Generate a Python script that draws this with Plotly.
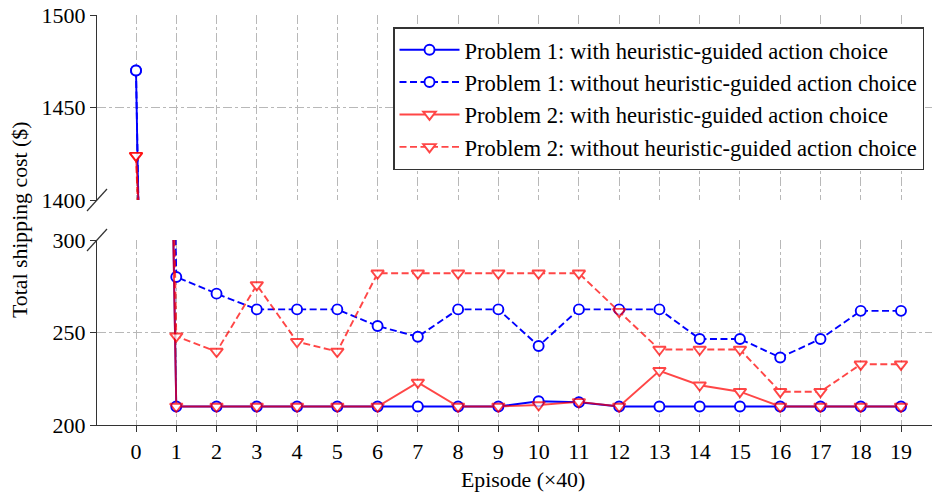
import plotly.graph_objects as go

# Episode index (one unit = 40 training episodes)
episodes = list(range(20))

# Total shipping cost ($) per evaluation point
p1_with = [1470, 210, 210, 210, 210, 210, 210, 210, 210, 210,
           212.8, 212.3, 210, 210, 210, 210, 210, 210, 210, 210]
p1_without = [1470, 280, 271, 262.5, 262.5, 262.5, 253.5, 247.7, 262.5, 262.5,
              242.7, 262.5, 262.5, 262.5, 246.5, 246.5, 236.5, 246.5, 261.7, 261.7]
p2_with = [1424, 210, 210, 210, 210, 210, 210, 223, 210, 210,
           210.8, 212.5, 210, 229.3, 221.5, 218, 210, 210, 210, 210]
p2_without = [1424, 248, 239.7, 275.7, 245, 239.7, 282, 282, 282, 282,
              282, 282, 261.3, 240.8, 240.8, 240.8, 218, 218, 232.8, 232.8]

series_names = [
    "Problem 1: with heuristic-guided action choice",
    "Problem 1: without heuristic-guided action choice",
    "Problem 2: with heuristic-guided action choice",
    "Problem 2: without heuristic-guided action choice",
]

FONT = "Liberation Serif"
BLUE = "#0000ff"
RED = "#ff0000"

styles = [
    dict(color=BLUE, dash="solid", symbol="circle", opacity=1.0, size=10),
    dict(color=BLUE, dash="7px,3.5px", symbol="circle", opacity=1.0, size=10),
    dict(color=RED, dash="solid", symbol="triangle-down", opacity=0.72, size=11),
    dict(color=RED, dash="7px,3.5px", symbol="triangle-down", opacity=0.72, size=11),
]

fig = go.Figure()
for i, (name, vals, st) in enumerate(zip(series_names,
                                        [p1_with, p1_without, p2_with, p2_without],
                                        styles)):
    for axis_y, show in (("y", True), ("y2", False)):
        fig.add_trace(go.Scatter(
            x=episodes, y=vals, name=name, mode="lines+markers",
            xaxis="x" if axis_y == "y" else "x2", yaxis=axis_y,
            legendgroup=f"g{i}", showlegend=show,
            opacity=st["opacity"],
            line=dict(color=st["color"], width=1.9, dash=st["dash"]),
            marker=dict(symbol=st["symbol"], size=st["size"], color="white",
                        line=dict(color=st["color"], width=1.9)),
        ))

x_range = [-0.969, 19.77]
grid = dict(showgrid=True, gridcolor="#b8b8b8", griddash="dashdot", gridwidth=0.8)
tickfont = dict(family=FONT, size=22, color="black")

# lower panel (200-300)
fig.update_layout(
    xaxis=dict(domain=[0, 1], anchor="y", range=x_range, tickmode="array",
               tickvals=episodes, ticktext=[str(e) for e in episodes],
               ticks="outside", ticklen=6, tickcolor="#333", showline=True,
               linecolor="#333", linewidth=1.2, zeroline=False, tickfont=tickfont,
               **grid),
    yaxis=dict(domain=[0, 185 / 410], anchor="x", range=[200, 300],
               tickvals=[200, 250, 300], ticks="outside", ticklen=6, tickcolor="#333",
               showline=True, linecolor="#333", linewidth=1.2, zeroline=False,
               tickfont=tickfont, **grid),
    # upper panel (1400-1500)
    xaxis2=dict(domain=[0, 1], anchor="y2", range=x_range, tickmode="array",
                tickvals=episodes, showticklabels=False, ticks="", showline=False,
                zeroline=False, **grid),
    yaxis2=dict(domain=[225 / 410, 1], anchor="x2", range=[1400, 1500],
                tickvals=[1400, 1450, 1500], ticks="outside", ticklen=6,
                tickcolor="#333", showline=True, linecolor="#333", linewidth=1.2,
                zeroline=False, tickfont=tickfont, **grid),
)

# diagonal break marks on the left spine
for yc in (225 / 410, 185 / 410):
    fig.add_shape(type="line", xref="paper", yref="paper",
                  x0=-10 / 835, y0=yc - 11 / 410, x1=10 / 835, y1=yc + 11 / 410,
                  line=dict(color="#333", width=1.2))

fig.add_annotation(text="Total shipping cost ($)", xref="paper", yref="paper",
                   x=-77 / 835, y=0.5, textangle=-90, showarrow=False,
                   xanchor="center", yanchor="middle",
                   font=dict(family=FONT, size=21.8, color="black"))
fig.add_annotation(text="Episode (×40)", xref="paper", yref="paper",
                   x=426 / 835, y=-55 / 410, showarrow=False,
                   xanchor="center", yanchor="middle",
                   font=dict(family=FONT, size=21.8, color="black"))

fig.update_layout(
    width=932, height=493,
    margin=dict(l=97, r=0, t=15, b=68),
    paper_bgcolor="white", plot_bgcolor="white",
    showlegend=True,
    legend=dict(x=296 / 835, y=398 / 410, xanchor="left", yanchor="top",
                bgcolor="white", bordercolor="#333", borderwidth=1.5,
                font=dict(family=FONT, size=22.6, color="black"),
                tracegroupgap=0, itemwidth=60),
)

fig.write_html("out.html")
